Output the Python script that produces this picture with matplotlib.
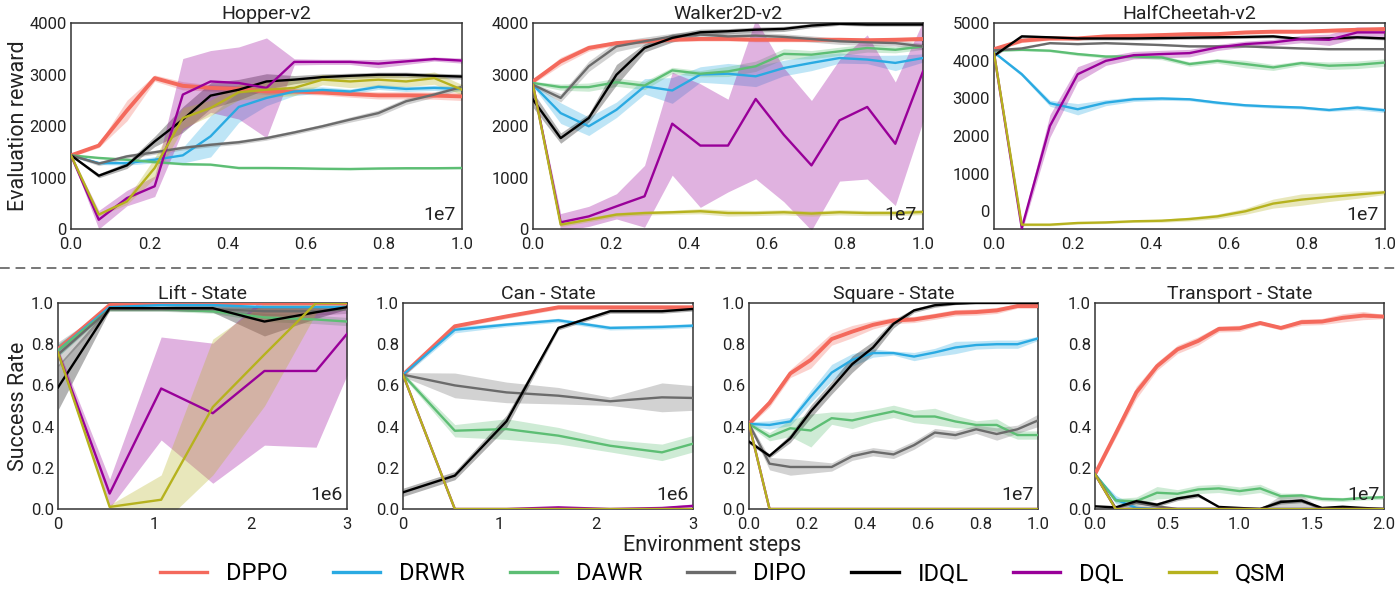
import matplotlib
matplotlib.use("Agg")
import matplotlib.pyplot as plt
from matplotlib.lines import Line2D
import numpy as np

plt.rcParams['font.family'] = ['Roboto', 'DejaVu Sans']

METHODS = ["DPPO", "DRWR", "DAWR", "DIPO", "IDQL", "DQL", "QSM"]
COLORS = ["#F4695C", "#2AAAE2", "#5DBE74", "#6B6B6B", "#000000", "#990099", "#B6B21E"]

# x positions (in units of the offset shown in the corner)
TOP_X = [0.0, 0.071, 0.143, 0.214, 0.286, 0.357, 0.429, 0.5, 0.571, 0.643, 0.714, 0.786, 0.857, 0.929, 1.0]
ROBO_X = [0.0, 0.536, 1.071, 1.607, 2.143, 2.679, 3.0]
SQUARE_X = TOP_X
TRANSPORT_X = [0.0, 0.143, 0.286, 0.429, 0.571, 0.714, 0.857, 1.0, 1.143, 1.286, 1.429, 1.571, 1.714, 1.857, 2.0]

# ---- Hopper-v2 ----
HOPPER = {
    "DPPO": [1430, 1620, 2300, 2930, 2780, 2740, 2720, 2670, 2670, 2650, 2620, 2595, 2595, 2590, 2575],
    "DRWR": [1430, 1280, 1280, 1345, 1430, 1800, 2370, 2545, 2670, 2700, 2670, 2760, 2720, 2740, 2720],
    "DAWR": [1430, 1380, 1345, 1300, 1260, 1250, 1185, 1185, 1180, 1170, 1165, 1175, 1180, 1180, 1185],
    "DIPO": [1430, 1270, 1410, 1490, 1575, 1635, 1685, 1765, 1875, 1995, 2125, 2250, 2480, 2610, 2760],
    "IDQL": [1430, 1035, 1235, 1700, 2125, 2590, 2705, 2865, 2900, 2950, 2975, 2995, 2995, 2975, 2960],
    "DQL":  [1430, 180, 600, 830, 2610, 2865, 2835, 2740, 3245, 3245, 3245, 3210, 3255, 3300, 3270],
    "QSM":  [1430, 280, 535, 1185, 2155, 2350, 2655, 2705, 2740, 2900, 2865, 2900, 2865, 2930, 2705],
}
HOPPER_SD = {
    "DPPO": [30, 40, 200, 60, 80, 60, 60, 60, 50, 50, 60, 70, 70, 70, 80],
    "DRWR": [20, 30, 40, 60, 150, 400, 300, 150, 80, 60, 50, 50, 50, 50, 50],
    "DAWR": [20, 20, 20, 20, 20, 20, 20, 20, 20, 20, 20, 20, 20, 20, 20],
    "DIPO": [20, 40, 40, 40, 40, 40, 40, 40, 40, 40, 50, 60, 60, 50, 50],
    "IDQL": [20, 40, 60, 100, 250, 250, 200, 150, 80, 60, 50, 50, 50, 50, 50],
    "DQL":  [20, 180, 150, 200, 700, 600, 700, 970, 60, 50, 50, 80, 60, 40, 50],
    "QSM":  [20, 30, 60, 200, 200, 150, 150, 150, 150, 100, 120, 120, 100, 120, 100],
}

# ---- Walker2D-v2 ----
WALKER = {
    "DPPO": [2865, 3255, 3515, 3610, 3645, 3675, 3690, 3690, 3675, 3675, 3675, 3675, 3665, 3675, 3690],
    "DRWR": [2800, 2250, 1995, 2315, 2770, 2690, 3000, 3015, 2965, 3125, 3225, 3320, 3290, 3225, 3320],
    "DAWR": [2835, 2755, 2755, 2850, 2785, 3080, 3015, 3060, 3160, 3400, 3385, 3450, 3515, 3480, 3545],
    "DIPO": [2800, 2545, 3160, 3545, 3645, 3740, 3775, 3740, 3755, 3730, 3690, 3645, 3625, 3610, 3545],
    "IDQL": [2510, 1765, 2155, 2995, 3515, 3710, 3820, 3840, 3870, 3885, 3950, 3985, 3970, 3970, 3970],
    "DQL":  [2800, 130, 245, 440, 635, 2045, 1620, 1620, 2525, 1830, 1235, 2110, 2370, 1655, 3060],
    "QSM":  [2800, 85, 180, 280, 310, 325, 345, 310, 310, 325, 300, 325, 310, 310, 330],
}
WALKER_SD = {
    "DPPO": [40, 80, 60, 40, 40, 40, 40, 40, 40, 40, 40, 40, 40, 40, 40],
    "DRWR": [30, 200, 180, 150, 150, 250, 150, 200, 200, 150, 150, 100, 80, 150, 80],
    "DAWR": [30, 60, 80, 80, 80, 60, 60, 100, 100, 100, 80, 80, 80, 60, 60],
    "DIPO": [30, 80, 100, 100, 80, 60, 60, 60, 60, 60, 60, 60, 60, 60, 60],
    "IDQL": [150, 100, 80, 200, 80, 80, 60, 50, 50, 50, 40, 30, 30, 30, 30],
    "DQL":  [30, 170, 195, 245, 600, 1000, 1200, 900, 1550, 1300, 1260, 1180, 1400, 1200, 970],
    "QSM":  [30, 40, 40, 40, 40, 40, 50, 60, 50, 50, 50, 50, 50, 50, 50],
}

# ---- HalfCheetah-v2 ----
CHEETAH = {
    "DPPO": [4305, 4530, 4590, 4590, 4645, 4660, 4680, 4705, 4705, 4750, 4770, 4770, 4795, 4820, 4840],
    "DRWR": [4220, 3640, 2870, 2710, 2885, 2975, 2995, 2975, 2885, 2815, 2780, 2755, 2690, 2755, 2680],
    "DAWR": [4270, 4290, 4265, 4175, 4110, 4110, 4085, 3910, 3995, 3910, 3820, 3935, 3865, 3890, 3950],
    "DIPO": [4270, 4325, 4465, 4440, 4465, 4440, 4415, 4380, 4380, 4380, 4350, 4325, 4305, 4305, 4305],
    "IDQL": [4130, 4645, 4620, 4590, 4590, 4590, 4600, 4610, 4620, 4630, 4645, 4575, 4590, 4620, 4590],
    "DQL":  [4200, -445, 2265, 3640, 3995, 4145, 4175, 4200, 4350, 4440, 4485, 4575, 4555, 4750, 4750],
    "QSM":  [4200, -355, -355, -310, -295, -265, -250, -205, -135, 0, 205, 310, 380, 445, 505],
}
CHEETAH_SD = {
    "DPPO": [50, 50, 50, 50, 50, 50, 50, 50, 50, 50, 50, 50, 60, 60, 60],
    "DRWR": [30, 50, 80, 150, 80, 60, 50, 40, 40, 40, 40, 40, 40, 60, 60],
    "DAWR": [30, 30, 30, 40, 40, 40, 60, 60, 60, 100, 80, 60, 100, 100, 100],
    "DIPO": [20, 20, 20, 20, 20, 20, 20, 20, 20, 20, 20, 20, 20, 20, 20],
    "IDQL": [40, 40, 40, 40, 40, 40, 40, 40, 40, 40, 40, 40, 40, 40, 40],
    "DQL":  [30, 100, 300, 200, 120, 100, 100, 100, 80, 80, 80, 100, 150, 150, 120],
    "QSM":  [30, 30, 30, 30, 30, 30, 40, 50, 60, 80, 120, 150, 120, 100, 60],
}

# ---- Lift - State ----
LIFT = {
    "DPPO": [0.775, 0.99, 1.0, 1.0, 1.0, 1.0, 1.0],
    "DRWR": [0.77, 0.98, 0.99, 0.99, 0.98, 0.98, 0.98],
    "DAWR": [0.77, 0.97, 0.97, 0.96, 0.93, 0.92, 0.91],
    "DIPO": [0.75, 0.97, 0.97, 0.97, 0.96, 0.96, 0.97],
    "IDQL": [0.59, 0.975, 0.975, 0.975, 0.91, 0.955, 0.98],
    "DQL":  [0.76, 0.075, 0.585, 0.465, 0.67, 0.67, 0.85],
    "QSM":  [0.76, 0.01, 0.045, 0.495, 0.75, 1.0, 1.0],
}
LIFT_SD = {
    "DPPO": [0.02, 0.005, 0.005, 0.005, 0.005, 0.005, 0.005],
    "DRWR": [0.03, 0.01, 0.01, 0.01, 0.01, 0.01, 0.01],
    "DAWR": [0.03, 0.01, 0.01, 0.01, 0.02, 0.02, 0.02],
    "DIPO": [0.06, 0.01, 0.01, 0.01, 0.02, 0.02, 0.02],
    "IDQL": [0.11, 0.01, 0.01, 0.02, 0.07, 0.03, 0.01],
    "DQL":  [0.02, 0.07, 0.25, 0.34, 0.36, 0.37, 0.2],
    "QSM":  [0.02, 0.01, 0.12, 0.33, 0.25, 0.05, 0.01],
}

# ---- Can - State ----
CAN = {
    "DPPO": [0.652, 0.887, 0.935, 0.979, 0.979, 0.979, 0.979],
    "DRWR": [0.652, 0.87, 0.895, 0.916, 0.879, 0.884, 0.89],
    "DAWR": [0.652, 0.38, 0.388, 0.356, 0.307, 0.275, 0.317],
    "DIPO": [0.652, 0.6, 0.566, 0.55, 0.523, 0.542, 0.539],
    "IDQL": [0.081, 0.162, 0.426, 0.879, 0.96, 0.96, 0.971],
    "DQL":  [0.652, 0.0, 0.0, 0.008, 0.0, 0.005, 0.015],
    "QSM":  [0.652, 0.0, 0.0, 0.0, 0.0, 0.0, 0.0],
}
CAN_SD = {
    "DPPO": [0.01, 0.01, 0.01, 0.01, 0.01, 0.01, 0.01],
    "DRWR": [0.01, 0.015, 0.01, 0.01, 0.01, 0.01, 0.01],
    "DAWR": [0.01, 0.03, 0.05, 0.04, 0.03, 0.04, 0.04],
    "DIPO": [0.01, 0.06, 0.05, 0.04, 0.02, 0.07, 0.06],
    "IDQL": [0.02, 0.02, 0.03, 0.01, 0.01, 0.01, 0.01],
    "DQL":  [0.0, 0.0, 0.0, 0.005, 0.0, 0.005, 0.01],
    "QSM":  [0.0, 0.0, 0.0, 0.0, 0.0, 0.0, 0.0],
}

# ---- Square - State ----
SQUARE = {
    "DPPO": [0.413, 0.515, 0.658, 0.724, 0.825, 0.861, 0.894, 0.915, 0.92, 0.936, 0.953, 0.956, 0.964, 0.985, 0.985],
    "DRWR": [0.413, 0.408, 0.425, 0.547, 0.662, 0.724, 0.757, 0.757, 0.74, 0.76, 0.784, 0.796, 0.8, 0.8, 0.828],
    "DAWR": [0.413, 0.351, 0.392, 0.381, 0.441, 0.43, 0.453, 0.474, 0.449, 0.449, 0.425, 0.408, 0.408, 0.359, 0.359],
    "DIPO": [0.413, 0.22, 0.204, 0.204, 0.204, 0.256, 0.278, 0.265, 0.31, 0.371, 0.359, 0.387, 0.364, 0.387, 0.43],
    "IDQL": [0.327, 0.258, 0.343, 0.474, 0.588, 0.703, 0.784, 0.899, 0.964, 0.989, 0.997, 1.0, 1.0, 1.0, 1.0],
    "DQL":  [0.413, 0.0, 0.0, 0.0, 0.0, 0.0, 0.0, 0.0, 0.0, 0.0, 0.0, 0.0, 0.0, 0.0, 0.0],
    "QSM":  [0.413, 0.0, 0.0, 0.0, 0.0, 0.0, 0.0, 0.0, 0.0, 0.0, 0.0, 0.0, 0.0, 0.0, 0.0],
}
SQUARE_SD = {
    "DPPO": [0.01, 0.02, 0.02, 0.04, 0.03, 0.03, 0.02, 0.015, 0.015, 0.015, 0.015, 0.015, 0.015, 0.01, 0.01],
    "DRWR": [0.01, 0.02, 0.02, 0.03, 0.04, 0.03, 0.02, 0.01, 0.02, 0.02, 0.03, 0.02, 0.02, 0.02, 0.01],
    "DAWR": [0.01, 0.02, 0.04, 0.08, 0.03, 0.04, 0.03, 0.03, 0.03, 0.04, 0.03, 0.02, 0.03, 0.02, 0.02],
    "DIPO": [0.01, 0.03, 0.04, 0.03, 0.02, 0.02, 0.02, 0.02, 0.02, 0.02, 0.02, 0.02, 0.03, 0.02, 0.03],
    "IDQL": [0.01, 0.01, 0.02, 0.03, 0.03, 0.04, 0.03, 0.02, 0.01, 0.01, 0.005, 0.0, 0.0, 0.0, 0.0],
    "DQL":  [0.0] * 15,
    "QSM":  [0.0] * 15,
}

# ---- Transport - State ----
TRANSPORT = {
    "DPPO": [0.169, 0.366, 0.566, 0.693, 0.775, 0.816, 0.874, 0.877, 0.903, 0.879, 0.907, 0.91, 0.928, 0.939, 0.934],
    "DRWR": [0.169, 0.046, 0.005, 0.0, 0.0, 0.0, 0.0, 0.0, 0.0, 0.0, 0.0, 0.0, 0.0, 0.0, 0.0],
    "DAWR": [0.169, 0.041, 0.038, 0.079, 0.074, 0.095, 0.1, 0.087, 0.1, 0.062, 0.066, 0.049, 0.046, 0.054, 0.057],
    "DIPO": [0.169, 0.005, 0.03, 0.013, 0.0, 0.0, 0.0, 0.0, 0.0, 0.038, 0.038, 0.0, 0.0, 0.0, 0.0],
    "IDQL": [0.013, 0.008, 0.038, 0.021, 0.051, 0.067, 0.01, 0.005, 0.0, 0.034, 0.041, 0.005, 0.011, 0.005, 0.0],
    "DQL":  [0.169, 0.0, 0.0, 0.0, 0.0, 0.0, 0.0, 0.0, 0.0, 0.0, 0.0, 0.0, 0.0, 0.0, 0.0],
    "QSM":  [0.169, 0.0, 0.0, 0.0, 0.0, 0.0, 0.0, 0.0, 0.0, 0.0, 0.0, 0.0, 0.0, 0.0, 0.0],
}
TRANSPORT_SD = {
    "DPPO": [0.01, 0.02, 0.03, 0.02, 0.02, 0.02, 0.015, 0.015, 0.01, 0.01, 0.015, 0.015, 0.02, 0.02, 0.01],
    "DRWR": [0.0, 0.02, 0.01, 0.0, 0.0, 0.0, 0.0, 0.0, 0.0, 0.0, 0.0, 0.0, 0.0, 0.0, 0.0],
    "DAWR": [0.0, 0.01, 0.02, 0.03, 0.02, 0.02, 0.02, 0.02, 0.02, 0.015, 0.01, 0.01, 0.01, 0.01, 0.01],
    "DIPO": [0.0, 0.005, 0.02, 0.01, 0.0, 0.0, 0.0, 0.0, 0.0, 0.03, 0.03, 0.0, 0.0, 0.0, 0.0],
    "IDQL": [0.0, 0.0, 0.01, 0.01, 0.01, 0.01, 0.0, 0.0, 0.0, 0.01, 0.01, 0.0, 0.0, 0.0, 0.0],
    "DQL":  [0.0] * 15,
    "QSM":  [0.0] * 15,
}

W, H = 1400, 594
fig = plt.figure(figsize=(W / 100, H / 100), dpi=100)

def px_axes(left, top, right, bottom):
    return fig.add_axes([left / W, 1 - bottom / H, (right - left) / W, (bottom - top) / H])

# title, x, means, sds, axes box (px), ylim, yticks, xlim, xticks, xfmt, offset
panels = [
    ("Hopper-v2", TOP_X, HOPPER, HOPPER_SD, (71, 23, 462, 229), (0, 4000), range(0, 4001, 1000), (0, 1), np.arange(0, 1.01, 0.2), "{:.1f}", "1e7"),
    ("Walker2D-v2", TOP_X, WALKER, WALKER_SD, (533, 23, 923, 229), (0, 4000), range(0, 4001, 1000), (0, 1), np.arange(0, 1.01, 0.2), "{:.1f}", "1e7"),
    ("HalfCheetah-v2", TOP_X, CHEETAH, CHEETAH_SD, (994, 23, 1385, 229), (-470, 5000), range(0, 5001, 1000), (0, 1), np.arange(0, 1.01, 0.2), "{:.1f}", "1e7"),
    ("Lift - State", ROBO_X, LIFT, LIFT_SD, (58, 303, 347, 509), (0, 1), np.arange(0, 1.01, 0.2), (0, 3), [0, 1, 2, 3], "{:.0f}", "1e6"),
    ("Can - State", ROBO_X, CAN, CAN_SD, (403, 303, 693, 509), (0, 1), np.arange(0, 1.01, 0.2), (0, 3), [0, 1, 2, 3], "{:.0f}", "1e6"),
    ("Square - State", SQUARE_X, SQUARE, SQUARE_SD, (749, 303, 1038, 509), (0, 1), np.arange(0, 1.01, 0.2), (0, 1), np.arange(0, 1.01, 0.2), "{:.1f}", "1e7"),
    ("Transport - State", TRANSPORT_X, TRANSPORT, TRANSPORT_SD, (1095, 303, 1384, 509), (0, 1), np.arange(0, 1.01, 0.2), (0, 2), np.arange(0, 2.01, 0.5), "{:.1f}", "1e7"),
]

txt = "#222222"
for title, xs, means, sds, box, ylim, yticks, xlim, xticks, xfmt, off in panels:
    ax = px_axes(*box)
    x = np.array(xs)
    for i, m in enumerate(METHODS):
        y = np.array(means[m], dtype=float)
        s = np.array(sds[m], dtype=float)
        ax.fill_between(x, y - s, y + s, color=COLORS[i], alpha=0.3, lw=0, zorder=2)
        ax.plot(x, y, color=COLORS[i], lw=2.8 if m == "DPPO" else 1.7, zorder=3 + i * 0.1)
    ax.set_xlim(*xlim)
    ax.set_ylim(*ylim)
    ax.set_xticks(xticks)
    ax.set_xticklabels([xfmt.format(t) for t in xticks])
    ax.set_yticks(list(yticks))
    if ylim[1] <= 1:
        ax.set_yticklabels(["{:.1f}".format(t) for t in yticks])
    ax.tick_params(length=0, labelsize=12, colors=txt)
    ax.tick_params(axis="x", pad=5.5)
    ax.tick_params(axis="y", pad=3)
    for sp in ax.spines.values():
        sp.set_color("#333333")
        sp.set_linewidth(1.1)
    ax.set_title(title, fontsize=14, color=txt, pad=3)
    ax.text(0.985, 0.025, off, transform=ax.transAxes, ha="right", va="bottom",
            fontsize=14, color=txt, zorder=10)

fig.text(19 / W, 1 - 126 / H, "Evaluation reward", rotation=90, ha="center", va="center", fontsize=15.5, color=txt)
fig.text(19 / W, 1 - 406 / H, "Success Rate", rotation=90, ha="center", va="center", fontsize=15.5, color=txt)
fig.text(712 / W, 1 - 546 / H, "Environment steps", ha="center", va="center", fontsize=15.5, color=txt)

# dashed separator between the two rows
fig.add_artist(Line2D([0, 1], [1 - 268 / H, 1 - 268 / H], transform=fig.transFigure,
                      color="#777777", lw=1.4, ls=(0, (5, 3))))

handles = [Line2D([], [], color=c, lw=2.4) for c in COLORS]
fig.legend(handles, METHODS, loc="center", bbox_to_anchor=(723 / W, 1 - 574 / H), ncol=7,
           frameon=False, fontsize=17, handlelength=2.0, handletextpad=0.8, columnspacing=1.9)

fig.savefig("out.png", dpi=100)
